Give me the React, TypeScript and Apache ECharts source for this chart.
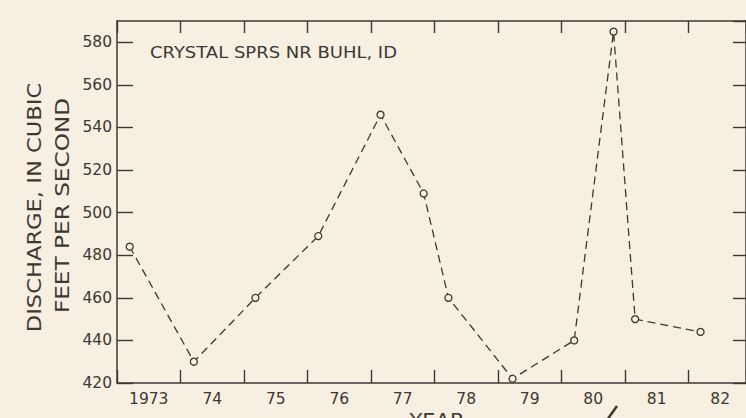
import React, { useEffect, useRef } from "react";
import * as echarts from "echarts";

// Data (water-year position, discharge in ft³/s)
const pointYears = [1973.2, 1974.21, 1975.18, 1976.17, 1977.15, 1977.83, 1978.22, 1979.23, 1980.2, 1980.82, 1981.16, 1982.19];
const discharge = [484, 430, 460, 489, 546, 509, 460, 422, 440, 585, 450, 444];
const yearLabels = ["1973", "74", "75", "76", "77", "78", "79", "80", "81", "82"];
const firstYear = 1973;
const stationName = "CRYSTAL SPRS NR BUHL, ID";
const yNameLine1 = "DISCHARGE, IN CUBIC";
const yNameLine2 = "FEET PER SECOND";
const xName = "YEAR";

const BG = "#f7efe1";
const INK = "#3d3833";
const FONT = '"DejaVu Sans", sans-serif';

export default function App() {
  const ref = useRef<HTMLDivElement>(null);
  useEffect(() => {
    document.body.style.margin = "0";
    const chart = echarts.init(ref.current!, null, { renderer: "svg" });
    const xMax = firstYear + 633 / 63.9;
    const axisLine = { show: true, lineStyle: { color: INK, width: 1.5 } };
    const option: any = {
      animation: false,
      backgroundColor: BG,
      grid: { left: 117, top: 21, width: 633, height: 362, containLabel: false },
      xAxis: [
        {
          type: "value", position: "bottom", min: firstYear, max: xMax, interval: 1,
          axisLine, splitLine: { show: false },
          axisTick: { show: true, inside: true, length: 13, lineStyle: { color: INK, width: 1.4 } },
          axisLabel: { show: false },
        },
        {
          type: "value", position: "bottom", min: firstYear, max: xMax, interval: 0.5,
          axisLine: { show: false }, axisTick: { show: false }, splitLine: { show: false },
          axisLabel: {
            show: true, margin: 8, color: INK, fontSize: 15.5, fontFamily: FONT,
            showMaxLabel: false,
            formatter: (v: number) => {
              const i = Math.round(v - firstYear - 0.5);
              if (Math.abs(v - firstYear - 0.5 - i) < 1e-6 && i >= 0 && i < yearLabels.length) return yearLabels[i];
              return "";
            },
          },
        },
        {
          type: "value", position: "top", min: firstYear, max: xMax, interval: 1,
          axisLine, splitLine: { show: false },
          axisTick: { show: true, inside: true, length: 12, lineStyle: { color: INK, width: 1.4 } },
          axisLabel: { show: false },
        },
      ],
      yAxis: [
        {
          type: "value", position: "left", min: 420, max: 590, interval: 20,
          axisLine, splitLine: { show: false },
          axisTick: { show: true, inside: true, length: 16, lineStyle: { color: INK, width: 1.4 } },
          axisLabel: { show: true, margin: 5, color: INK, fontSize: 15.5, fontFamily: FONT, showMaxLabel: false },
        },
        {
          type: "value", position: "right", min: 420, max: 590, interval: 20,
          axisLine, splitLine: { show: false },
          axisTick: { show: true, inside: true, length: 13, lineStyle: { color: INK, width: 1.4 } },
          axisLabel: { show: false },
        },
      ],
      series: [
        {
          type: "line",
          xAxisIndex: 0,
          yAxisIndex: 0,
          data: pointYears.map((x, i) => [x, discharge[i]]),
          symbol: "circle",
          symbolSize: 7,
          itemStyle: { color: BG, borderColor: INK, borderWidth: 1.3 },
          lineStyle: { color: INK, width: 1.3, type: [8, 5] },
          z: 3,
        },
      ],
      graphic: [
        {
          type: "text", x: 150, y: 53, scaleX: 1.2,
          style: { text: stationName, fill: INK, fontSize: 15, fontFamily: FONT, textAlign: "left", textVerticalAlign: "middle" },
        },
        {
          type: "text", x: 34, y: 207.5, rotation: Math.PI / 2, scaleX: 1.13,
          style: { text: yNameLine1, fill: INK, fontSize: 20, fontFamily: FONT, textAlign: "center", textVerticalAlign: "middle" },
        },
        {
          type: "text", x: 62, y: 205.5, rotation: Math.PI / 2, scaleX: 1.16,
          style: { text: yNameLine2, fill: INK, fontSize: 20, fontFamily: FONT, textAlign: "center", textVerticalAlign: "middle" },
        },
        {
          type: "text", x: 437, y: 410, scaleX: 1.05,
          style: { text: xName, fill: INK, fontSize: 20, fontFamily: FONT, textAlign: "center", textVerticalAlign: "top" },
        },
        {
          type: "line",
          shape: { x1: 617, y1: 406, x2: 607, y2: 420 },
          style: { stroke: INK, lineWidth: 2.5 },
        },
      ],
    };
    chart.setOption(option);
    return () => chart.dispose();
  }, []);
  return <div ref={ref} style={{ width: 746, height: 418, position: "absolute", left: 0, top: 0 }} />;
}
